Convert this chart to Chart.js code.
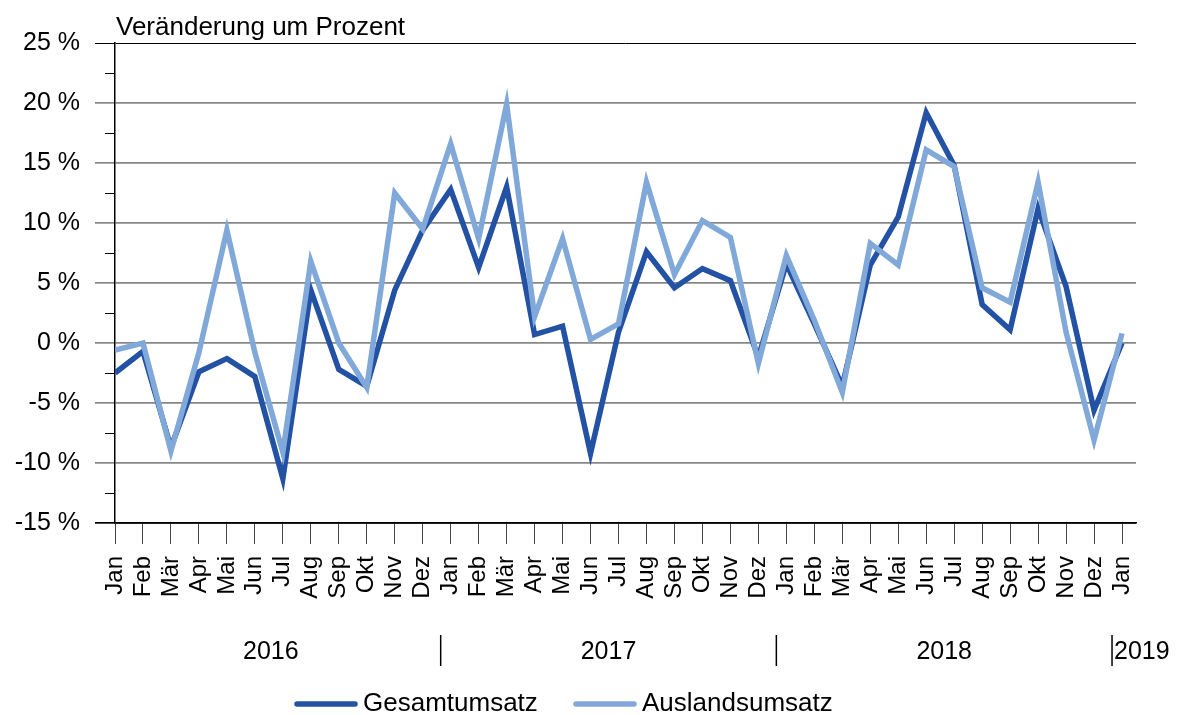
<!DOCTYPE html>
<html>
<head>
<meta charset="utf-8">
<script src="https://cdn.jsdelivr.net/npm/chart.js@4/dist/chart.umd.min.js"></script>
<style>
  html, body { margin: 0; padding: 0; background: #fff; }
  #wrap { width: 1179px; height: 715px; }
</style>
</head>
<body>
<div id="wrap"><canvas id="chart" width="1179" height="715"></canvas></div>
<script>
const months = ['Jan','Feb','Mär','Apr','Mai','Jun','Jul','Aug','Sep','Okt','Nov','Dez',
                'Jan','Feb','Mär','Apr','Mai','Jun','Jul','Aug','Sep','Okt','Nov','Dez',
                'Jan','Feb','Mär','Apr','Mai','Jun','Jul','Aug','Sep','Okt','Nov','Dez',
                'Jan'];
const gesamt = [-2.5, -0.7, -8.7, -2.4, -1.3, -2.8, -11.3, 4.4, -2.2, -3.6, 4.4, 9.4,
                12.8, 6.3, 13.0, 0.7, 1.4, -9.2, 0.9, 7.6, 4.6, 6.2, 5.2, -1.2,
                6.6, 1.6, -3.6, 6.5, 10.5, 19.2, 14.8, 3.2, 1.1, 11.2, 4.7, -5.6,
                0.0];
const ausland = [-0.6, 0.0, -9.0, -0.8, 9.4, -0.8, -9.1, 6.8, 0.0, -3.7, 12.5, 9.5,
                 16.6, 8.7, 19.9, 2.2, 8.7, 0.3, 1.6, 13.4, 5.7, 10.2, 8.8, -1.7,
                 7.3, 1.9, -4.1, 8.3, 6.5, 16.1, 14.7, 4.6, 3.4, 13.4, 0.9, -8.1,
                 0.8];
const years = ['2016', '2017', '2018', '2019'];
const yearStart = [0, 12, 24, 36];
const seriesNames = ['Gesamtumsatz', 'Auslandsumsatz'];

const dunkel = '#2351a4';
const hell = '#80a8d9';
const FONT = "'Liberation Sans', Arial, sans-serif";

const extras = {
    id: 'extras',
    afterDraw(chart) {
        const ctx = chart.ctx;
        const x = chart.scales.x, y = chart.scales.y;
        const area = chart.chartArea;
        ctx.save();
        // Titel
        ctx.fillStyle = '#000';
        ctx.font = '26px ' + FONT;
        ctx.textAlign = 'left';
        ctx.textBaseline = 'alphabetic';
        ctx.fillText('Veränderung um Prozent', 116, 35);

        // kleine Zwischenstriche an der y-Achse
        ctx.strokeStyle = '#000';
        ctx.lineWidth = 1;
        for (let v = -12.5; v < 25; v += 5) {
            const py = Math.round(y.getPixelForValue(v)) + 0.5;
            ctx.beginPath();
            ctx.moveTo(area.left - 10, py);
            ctx.lineTo(area.left, py);
            ctx.stroke();
        }

        // Jahre
        ctx.font = '25px ' + FONT;
        ctx.textBaseline = 'middle';
        for (let i = 0; i < years.length; i++) {
            const a = x.getPixelForValue(yearStart[i] - 0.5);
            const b = i + 1 < years.length ? x.getPixelForValue(yearStart[i + 1] - 0.5) + 4 : null;
            const sep = i > 0 ? x.getPixelForValue(yearStart[i] - 0.5) + 4 : null;
            if (sep !== null) {
                ctx.lineWidth = 1.5;
                ctx.beginPath();
                ctx.moveTo(sep, 635);
                ctx.lineTo(sep, 666);
                ctx.stroke();
            }
            if (b !== null) {
                const left = i > 0 ? sep : a;
                ctx.textAlign = 'center';
                ctx.fillText(years[i], (left + b) / 2, 652);
            } else {
                ctx.textAlign = 'left';
                ctx.fillText(years[i], sep + 2, 652);
            }
        }

        // Legende
        ctx.font = '26px ' + FONT;
        const legX = [295, 574];
        ctx.lineCap = 'round';
        chart.data.datasets.forEach((ds, i) => {
            ctx.strokeStyle = ds.borderColor;
            ctx.lineWidth = 5.5;
            ctx.beginPath();
            ctx.moveTo(legX[i] + 2, 704);
            ctx.lineTo(legX[i] + 60, 704);
            ctx.stroke();
            ctx.fillStyle = '#000';
            ctx.textAlign = 'left';
            ctx.fillText(ds.label, legX[i] + 68, 704);
        });
        ctx.restore();
    }
};

new Chart(document.getElementById('chart'), {
    type: 'line',
    data: {
        datasets: [
            {
                label: seriesNames[0],
                data: gesamt.map((v, i) => ({ x: i, y: v })),
                borderColor: dunkel,
                backgroundColor: dunkel,
                borderWidth: 5.5,
                pointRadius: 0,
                tension: 0,
                order: 1
            },
            {
                label: seriesNames[1],
                data: ausland.map((v, i) => ({ x: i, y: v })),
                borderColor: hell,
                backgroundColor: hell,
                borderWidth: 5.5,
                pointRadius: 0,
                tension: 0,
                order: 0
            }
        ]
    },
    options: {
        responsive: false,
        animation: false,
        layout: { padding: { top: 43, right: 43, left: 0, bottom: 0 } },
        plugins: {
            legend: { display: false },
            tooltip: { enabled: false }
        },
        scales: {
            x: {
                type: 'linear',
                min: 0,
                max: 36.5,
                afterFit: (s) => { s.height = 192; },
                border: { color: '#000', width: 1.5 },
                grid: {
                    drawOnChartArea: false,
                    tickLength: 21,
                    tickColor: '#444',
                    lineWidth: 1
                },
                ticks: {
                    stepSize: 1,
                    includeBounds: false,
                    autoSkip: false,
                    minRotation: 90,
                    maxRotation: 90,
                    padding: 12,
                    color: '#000',
                    font: { family: FONT, size: 24 },
                    callback: (v) => months[v]
                }
            },
            y: {
                min: -15,
                max: 25,
                afterFit: (s) => { s.width = 115; },
                border: { color: '#000', width: 1.5 },
                grid: {
                    tickLength: 20,
                    color: (c) => (c.tick.value === 25 || c.tick.value === -15) ? '#000' : '#878787',
                    lineWidth: (c) => (c.tick.value === 25) ? 1 : 1.7
                },
                ticks: {
                    stepSize: 5,
                    padding: 15,
                    color: '#000',
                    font: { family: FONT, size: 25 },
                    callback: (v) => v + ' %'
                }
            }
        }
    },
    plugins: [extras]
});
</script>
</body>
</html>
